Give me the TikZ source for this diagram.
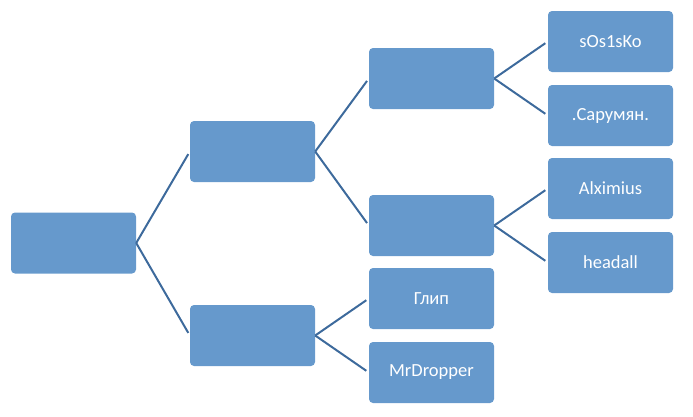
\documentclass[tikz,border=0pt]{standalone}
\usepackage{fontspec}
\setmainfont{Carlito}
\usepackage{xcolor}
\definecolor{boxblue}{HTML}{6699CC}
\definecolor{linkblue}{HTML}{3D6A9C}

\begin{document}
\begin{tikzpicture}[x=1pt,y=-1pt]
        \tikzset{box/.style={fill=boxblue,rounded corners=4pt,minimum width=125pt,
                minimum height=61pt,inner sep=0pt,text=white,
                font=\fontsize{18.5}{22}\selectfont},
            link/.style={draw=linkblue,line width=2pt,shorten >=3pt}}
        \useasboundingbox (0,0) rectangle (693,416);
        \node[box] (root) at (73.5,243) {};
        \node[box] (up) at (252.5,151.5) {};
        \node[box] (down) at (252.5,335.5) {};
        \node[box] (upup) at (431.5,78.5) {};
        \node[box] (updown) at (431.5,225.5) {};
        \node[box] (glip) at (431.5,298.5) {Глип};
        \node[box] (drop) at (431.5,372.5) {MrDropper};
        \node[box] (sos) at (610.5,41.5) {sOs1sKo};
        \node[box] (saru) at (610.5,115.5) {.Сарумян.};
        \node[box] (alx) at (610.5,188.5) {Alximius};
        \node[box] (head) at (610.5,262.5) {headall};
        \draw[link] (root.east) -- (up.west);
        \draw[link] (root.east) -- (down.west);
        \draw[link] (up.east) -- (upup.west);
        \draw[link] (up.east) -- (updown.west);
        \draw[link] (down.east) -- (glip.west);
        \draw[link] (down.east) -- (drop.west);
        \draw[link] (upup.east) -- (sos.west);
        \draw[link] (upup.east) -- (saru.west);
        \draw[link] (updown.east) -- (alx.west);
        \draw[link] (updown.east) -- (head.west);
    \end{tikzpicture}
\end{document}
